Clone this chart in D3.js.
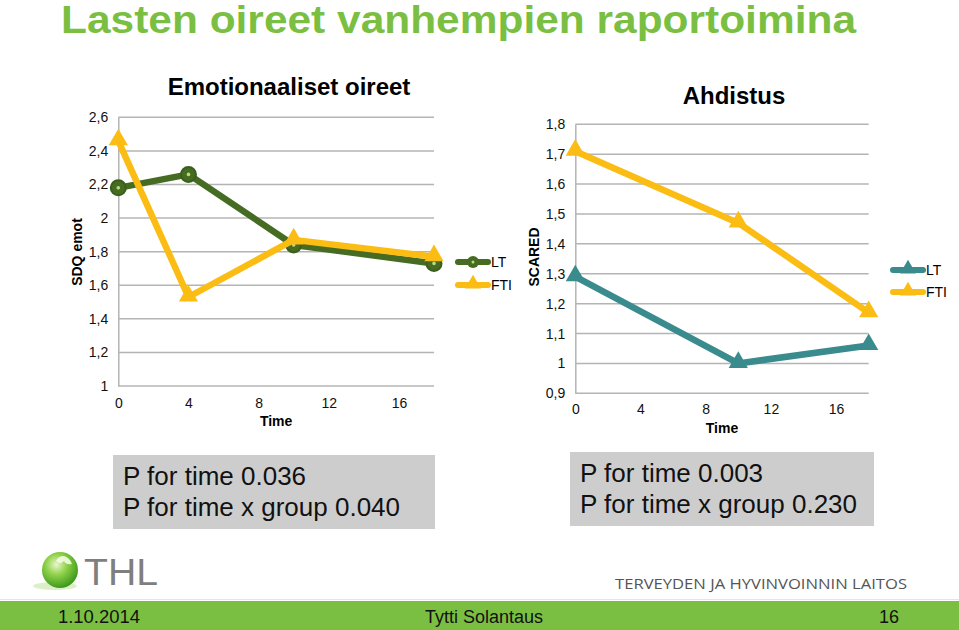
<!DOCTYPE html>
<html><head><meta charset="utf-8">
<script src="https://cdn.jsdelivr.net/npm/d3@7"></script>
<style>
html,body{margin:0;padding:0;background:#fff;}
svg{display:block;font-family:"Liberation Sans",Arial,sans-serif;}
</style></head>
<body>
<svg id="c" width="959" height="630"></svg>
<script>
// ---- data ----
const timePoints = [0, 4, 10, 18];
const emotLT  = [2.18, 2.26, 1.84, 1.73];
const emotFTI = [2.46, 1.53, 1.87, 1.77];
const anxTimePoints = [0, 10, 18];
const anxLT  = [1.29, 1.00, 1.06];
const anxFTI = [1.71, 1.47, 1.17];
const xTicks = [0, 4, 8, 12, 16];
const emotYTicks = [1, 1.2, 1.4, 1.6, 1.8, 2, 2.2, 2.4, 2.6];
const anxYTicks = [0.9, 1, 1.1, 1.2, 1.3, 1.4, 1.5, 1.6, 1.7, 1.8];
const seriesNames = ["LT", "FTI"];
const pText1 = ["P for time 0.036", "P for time x group 0.040"];
const pText2 = ["P for time 0.003", "P for time x group 0.230"];

const GREEN = "#7bbf42", DKGREEN = "#466b22", TEAL = "#3a8b8d", YELLOW = "#fbbd13", GRID = "#b4b4b4";
const svg = d3.select("#c");
const loc = d3.formatLocale({decimal: ",", thousands: " ", grouping: [3], currency: ["", ""]});
const fmt = loc.format(".1~f");

// main title
svg.append("text").attr("x", 61).attr("y", 33).attr("fill", GREEN)
  .attr("font-size", 38).attr("font-weight", "bold")
  .attr("textLength", 795).attr("lengthAdjust", "spacingAndGlyphs")
  .text("Lasten oireet vanhempien raportoimina");

function triangle(g, x, y, color, s) {
  const p = d3.symbol().type(d3.symbolTriangle).size(s || 160);
  g.append("path").attr("d", p()).attr("transform", `translate(${x},${y - 1})`).attr("fill", color);
}
function circleMarker(g, x, y) {
  g.append("circle").attr("cx", x).attr("cy", y).attr("r", 7.5).attr("fill", DKGREEN)
    .attr("stroke", "#3c5e1c").attr("stroke-width", 2);
  g.append("circle").attr("cx", x).attr("cy", y).attr("r", 1.8).attr("fill", "#b7dd7a");
}

function chart(cfg) {
  const g = svg.append("g");
  const x = d3.scaleLinear().domain([0, 18]).range([cfg.x0, cfg.x1]);
  const y = d3.scaleLinear().domain(cfg.yDomain).range([cfg.y0, cfg.y1]);
  g.selectAll("line.grid").data(cfg.yTicks).enter().append("line")
    .attr("x1", cfg.x0).attr("x2", cfg.x1)
    .attr("y1", d => y(d)).attr("y2", d => y(d))
    .attr("stroke", GRID).attr("stroke-width", 1.5);
  const ya = g.append("g").attr("transform", `translate(${cfg.x0},0)`)
    .call(d3.axisLeft(y).tickValues(cfg.yTicks).tickSize(0).tickPadding(10).tickFormat(fmt));
  ya.select(".domain").attr("stroke", GRID).attr("stroke-width", 1.5);
  ya.selectAll("text").attr("font-size", 14).attr("fill", "#111").attr("font-family", "Liberation Sans, Arial");
  const xa = g.append("g").attr("transform", `translate(0,${cfg.y0})`)
    .call(d3.axisBottom(x).tickValues(xTicks).tickSize(0).tickPadding(cfg.xPad).tickFormat(d3.format("d")));
  xa.select(".domain").remove();
  xa.selectAll("text").attr("font-size", 14).attr("fill", "#111").attr("font-family", "Liberation Sans, Arial");
  g.append("text").attr("x", (cfg.x0 + cfg.x1) / 2).attr("y", cfg.timeY).attr("text-anchor", "middle")
    .attr("font-size", 14).attr("font-weight", "bold").text("Time");
  g.append("text").attr("transform", `translate(${cfg.yTitleX},${cfg.yTitleY}) rotate(-90)`)
    .attr("text-anchor", "middle").attr("font-size", 14).attr("font-weight", "bold").text(cfg.yTitle);
  g.append("text").attr("x", cfg.titleX).attr("y", cfg.titleY).attr("text-anchor", "middle")
    .attr("font-size", 24).attr("font-weight", "bold").text(cfg.title);
  const line = d3.line().x(d => x(d[0])).y(d => y(d[1]));
  cfg.series.forEach(s => {
    const pts = cfg.times.map((t, i) => [t, s.values[i]]);
    g.append("path").attr("d", line(pts)).attr("fill", "none").attr("stroke", s.color)
      .attr("stroke-width", 6.5).attr("stroke-linejoin", "round");
    pts.forEach(p => {
      if (s.marker === "circle") circleMarker(g, x(p[0]), y(p[1]));
      else triangle(g, x(p[0]), y(p[1]), s.color);
    });
  });
  cfg.series.forEach((s, i) => {
    const ly = cfg.legY + i * cfg.legGap;
    g.append("line").attr("x1", cfg.legX).attr("x2", cfg.legX + 30).attr("y1", ly).attr("y2", ly)
      .attr("stroke", s.color).attr("stroke-width", 6).attr("stroke-linecap", "round");
    if (s.marker === "circle") {
      g.append("circle").attr("cx", cfg.legX + 15).attr("cy", ly).attr("r", 6).attr("fill", DKGREEN);
      g.append("circle").attr("cx", cfg.legX + 15).attr("cy", ly).attr("r", 1.5).attr("fill", "#b7dd7a");
    } else triangle(g, cfg.legX + 15, ly, s.color, 110);
    g.append("text").attr("x", cfg.legX + 33).attr("y", ly + 5).attr("font-size", 14).text(s.name);
  });
}

chart({
  x0: 118.3, x1: 434, y0: 386, y1: 117.3, yDomain: [1, 2.6], yTicks: emotYTicks, xPad: 12,
  times: timePoints, timeY: 426, yTitle: "SDQ emot", yTitleX: 82, yTitleY: 252,
  title: "Emotionaaliset oireet", titleX: 289, titleY: 95,
  legX: 458, legY: 262, legGap: 23,
  series: [
    {name: seriesNames[0], values: emotLT, color: DKGREEN, marker: "circle"},
    {name: seriesNames[1], values: emotFTI, color: YELLOW, marker: "triangle"}
  ]
});
chart({
  x0: 575.3, x1: 868.7, y0: 393.3, y1: 124.3, yDomain: [0.9, 1.8], yTicks: anxYTicks, xPad: 11,
  times: anxTimePoints, timeY: 433, yTitle: "SCARED", yTitleX: 539, yTitleY: 257,
  title: "Ahdistus", titleX: 734, titleY: 104,
  legX: 893, legY: 270, legGap: 22,
  series: [
    {name: seriesNames[0], values: anxLT, color: TEAL, marker: "triangle"},
    {name: seriesNames[1], values: anxFTI, color: YELLOW, marker: "triangle"}
  ]
});

function pbox(x, y, w, h, lines) {
  svg.append("rect").attr("x", x).attr("y", y).attr("width", w).attr("height", h).attr("fill", "#cdcdcd");
  lines.forEach((t, i) => svg.append("text").attr("x", x + 10).attr("y", y + 29.5 + i * 31.5)
    .attr("font-size", 26).attr("fill", "#111").text(t));
}
pbox(113, 455, 322, 74, pText1);
pbox(570, 452, 304, 74, pText2);

const defs = svg.append("defs");
const rg = defs.append("radialGradient").attr("id", "ball").attr("cx", "40%").attr("cy", "35%").attr("r", "65%");
rg.append("stop").attr("offset", "0%").attr("stop-color", "#e8f7c8");
rg.append("stop").attr("offset", "45%").attr("stop-color", "#8fd14a");
rg.append("stop").attr("offset", "100%").attr("stop-color", "#3f9a1c");
svg.append("ellipse").attr("cx", 55).attr("cy", 586).attr("rx", 22).attr("ry", 4).attr("fill", "#cde8b0").attr("opacity", 0.7);
svg.append("circle").attr("cx", 60).attr("cy", 570).attr("r", 18).attr("fill", "url(#ball)");
svg.append("path").attr("d", "M64,556 q6,2 8,8 q-6,1 -8,-3 q-4,4 -8,0 q2,-5 8,-5z").attr("fill", "#f4fbe6").attr("opacity", 0.9);
svg.append("text").attr("x", 84).attr("y", 585).attr("font-size", 37).attr("fill", "#7f7f7f")
  .attr("textLength", 74).attr("lengthAdjust", "spacingAndGlyphs").text("THL");
svg.append("text").attr("x", 615).attr("y", 589).attr("font-size", 15).attr("fill", "#555")
  .attr("font-family", "Open Sans, DejaVu Sans, sans-serif")
  .attr("textLength", 292).attr("lengthAdjust", "spacingAndGlyphs").text("TERVEYDEN JA HYVINVOINNIN LAITOS");

svg.append("line").attr("x1", 0).attr("x2", 959).attr("y1", 599.5).attr("y2", 599.5).attr("stroke", "#e4e4e4").attr("stroke-width", 1);
svg.append("rect").attr("x", 0).attr("y", 601).attr("width", 959).attr("height", 29).attr("fill", GREEN);
svg.append("text").attr("x", 58).attr("y", 623).attr("font-size", 18).attr("fill", "#111")
  .attr("textLength", 82).attr("lengthAdjust", "spacingAndGlyphs").text("1.10.2014");
svg.append("text").attr("x", 484).attr("y", 623).attr("text-anchor", "middle").attr("font-size", 18).attr("fill", "#111").text("Tytti Solantaus");
svg.append("text").attr("x", 899).attr("y", 623).attr("text-anchor", "end").attr("font-size", 18).attr("fill", "#111").text("16");
</script>
</body></html>
